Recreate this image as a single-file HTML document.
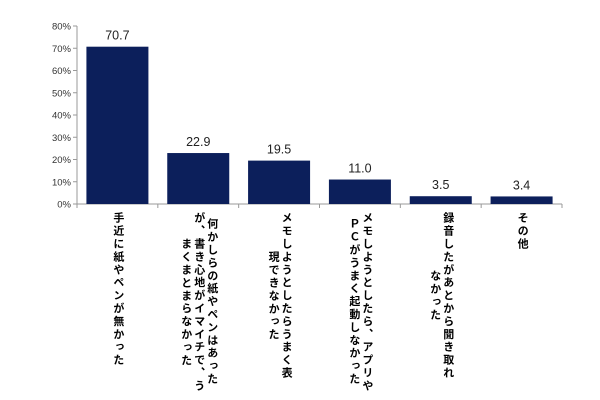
<!DOCTYPE html>
<html><head><meta charset="utf-8"><style>
html,body{margin:0;padding:0;background:#fff;}
body{width:600px;height:400px;position:relative;overflow:hidden;font-family:"Liberation Sans","Noto Sans CJK JP",sans-serif;}
svg{position:absolute;left:0;top:0;}
.cat{position:absolute;writing-mode:vertical-rl;text-align:center;font-weight:bold;font-size:11px;line-height:13px;letter-spacing:1.9px;color:#000;font-family:"Liberation Sans","Noto Sans CJK JP",sans-serif;white-space:pre;}
</style></head><body>
<svg id="chart" width="600" height="400"></svg>
<script>
const categories = ["手近に紙やペンが無かった","何かしらの紙やペンはあった\nが、書き心地がイマイチで、う\nまくまとまらなかった","メモしようとしたらうまく表\n現できなかった","メモしようとしたら、アプリや\nＰＣがうまく起動しなかった","録音したがあとから聞き取れ\nなかった","その他"];
const values = [70.7, 22.9, 19.5, 11.0, 3.5, 3.4];
const valueLabels = ["70.7","22.9","19.5","11.0","3.5","3.4"];
const yTicks = [0,10,20,30,40,50,60,70,80];
const yTickLabels = ["0%","10%","20%","30%","40%","50%","60%","70%","80%"];

const NS="http://www.w3.org/2000/svg";
const svg=document.getElementById('chart');
const X0=77, X1=562, Y0=204, Y1=26, YMAX=80;
const y=v=>Y0-(v/YMAX)*(Y0-Y1);
const band=(X1-X0)/categories.length;
const xc=i=>X0+band*(i+0.5);
const BW=62;
function mk(tag,attrs){const e=document.createElementNS(NS,tag);for(const k in attrs)e.setAttribute(k,attrs[k]);svg.appendChild(e);return e;}

const ya=mk('line',{x1:X0,y1:Y1,x2:X0,y2:Y0,stroke:'#999','stroke-width':1});


yTicks.forEach((t,i)=>{
  const tk=mk('line',{x1:X0-4,y1:y(t),x2:X0,y2:y(t),stroke:'#999','stroke-width':1});
  
  
  const tx=mk('text',{x:X0-6,y:y(t)+3.5,'text-anchor':'end','font-size':'9.5',fill:'#333','font-family':'Liberation Sans, sans-serif'});
  tx.textContent=yTickLabels[i];
  
  
});
const xa=mk('line',{x1:X0,y1:Y0,x2:X1,y2:Y0,stroke:'#999','stroke-width':1});


for(let i=0;i<=categories.length;i++){
  const tk=mk('line',{x1:X0+band*i,y1:Y0,x2:X0+band*i,y2:Y0+4,stroke:'#999','stroke-width':1});
  
  
}
values.forEach((v,i)=>{
  const r=mk('rect',{x:xc(i)-BW/2,y:y(v),width:BW,height:Y0-y(v),fill:'#0c1f5b'});
  
  
  const t=mk('text',{x:xc(i),y:y(v)-7,'text-anchor':'middle','font-size':'12.5',fill:'#222','font-family':'Liberation Sans, sans-serif'});
  t.textContent=valueLabels[i];
  
  
  const d=document.createElement('div');
  d.className='cat';
  d.textContent=categories[i];
  document.body.appendChild(d);
  
  
  const w=d.offsetWidth;
  d.style.left=(xc(i)-w/2)+'px';
  d.style.top='212px';
});
</script>
</body></html>
